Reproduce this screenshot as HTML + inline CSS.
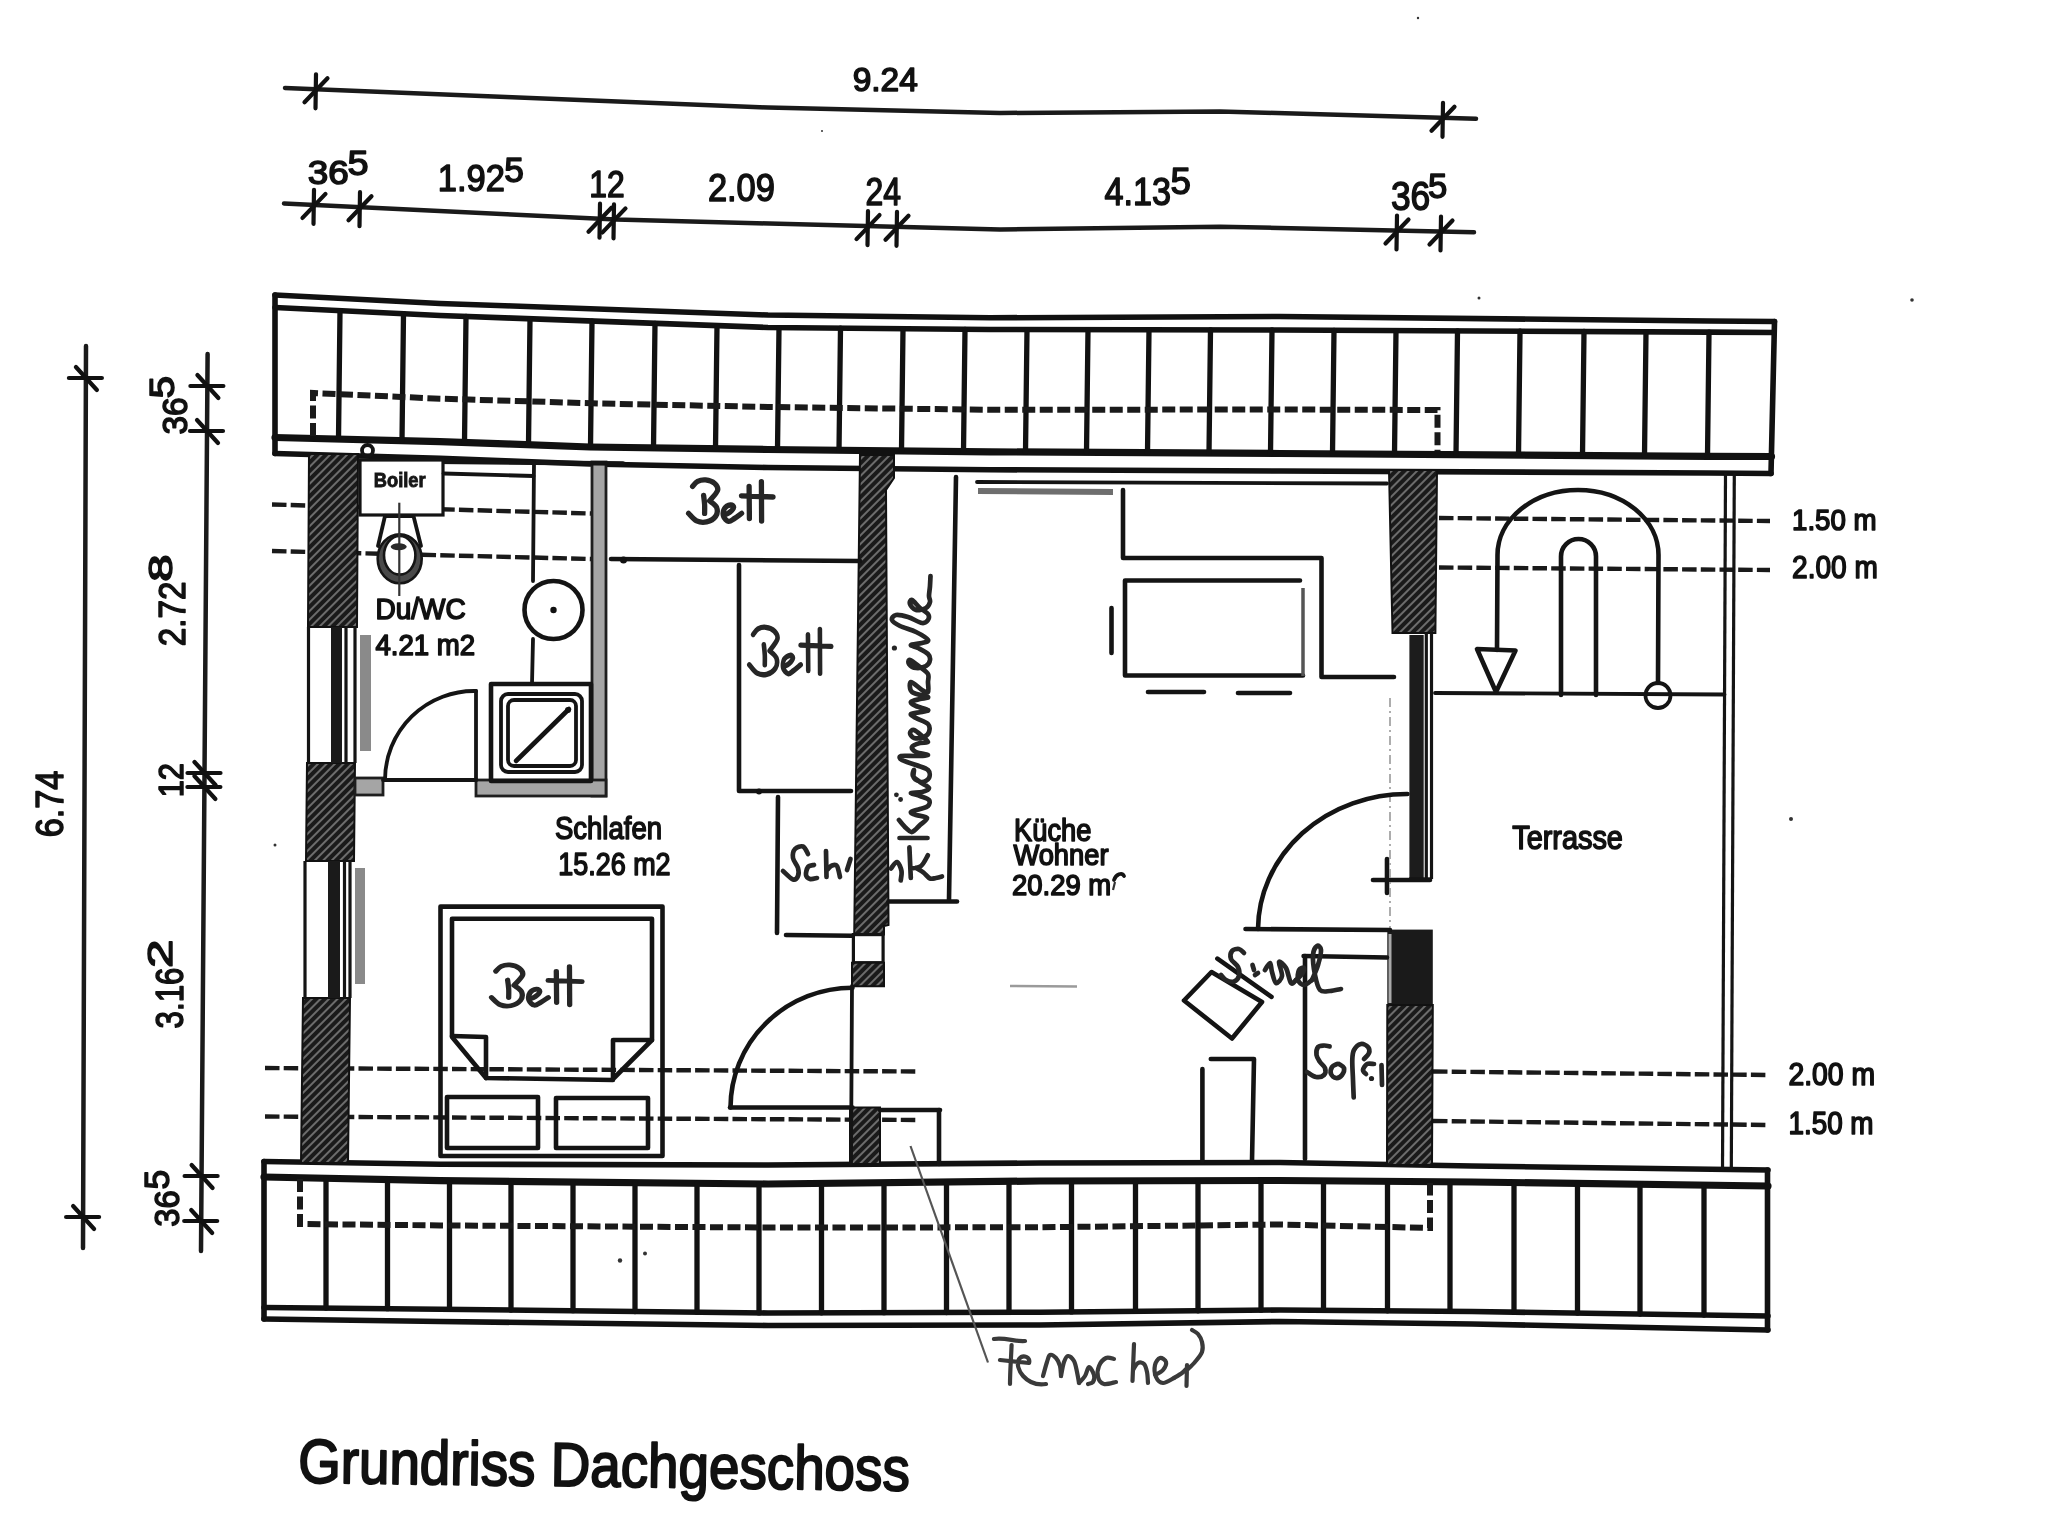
<!DOCTYPE html>
<html><head><meta charset="utf-8"><title>Grundriss Dachgeschoss</title><style>
html,body{margin:0;padding:0;background:#fff;}
svg{display:block;filter:blur(0.5px);}
.l{fill:none;stroke:#141414;stroke-width:4.6;stroke-linecap:round;stroke-linejoin:round}
.lg{fill:none;stroke:#555;stroke-width:3.5}
.th{fill:none;stroke:#141414;stroke-width:3.8;stroke-linecap:round;stroke-linejoin:round}
.thg{fill:none;stroke:#333;stroke-width:2.2}
.thw{fill:none;stroke:#aaa;stroke-width:3}
.rl{fill:none;stroke:#111;stroke-width:5.6;stroke-linecap:round;stroke-linejoin:round}
.rl3{fill:none;stroke:#111;stroke-width:7.2;stroke-linecap:round;stroke-linejoin:round}
.tl{fill:none;stroke:#111;stroke-width:5.3;stroke-linecap:round}
.wl{fill:none;stroke:#141414;stroke-width:3.2}
.dim{fill:none;stroke:#1a1a1a;stroke-width:4.5;stroke-linecap:round;stroke-linejoin:round}
.tk{fill:none;stroke:#111;stroke-width:4.2;stroke-linecap:round}
.dash{fill:none;stroke:#1a1a1a;stroke-width:6;stroke-dasharray:13 4.5}
.hd{fill:none;stroke:#1a1a1a;stroke-width:4.4;stroke-dasharray:14.5 4.2}
.dd{fill:none;stroke:#999;stroke-width:1.6;stroke-dasharray:9 4 2 4}
.ol{fill:#fff;stroke:#141414;stroke-width:3.2}
.gw{fill:#a5a5a5;stroke:#1e1e1e;stroke-width:2.8}
.gl{fill:none;stroke:#6e6e6e;stroke-width:6}
.gl2{fill:none;stroke:#9a9a9a;stroke-width:2.6}
.pt{fill:none;stroke:#555;stroke-width:2.2}
.hx{fill:url(#hp);stroke:#111;stroke-width:2}
.hw{fill:none;stroke:#262626;stroke-width:4.7;stroke-linecap:round;stroke-linejoin:round}
.hwf{fill:none;stroke:#3a3a3a;stroke-width:4.2;stroke-linecap:round;stroke-linejoin:round}
text{font-family:"Liberation Sans",sans-serif;}
.t{fill:#111;stroke:#111;stroke-width:1.6;stroke-linejoin:round}
.td{fill:#111;stroke:#111;stroke-width:1.5;stroke-linejoin:round}
.tb{fill:#161616;stroke:#161616;stroke-width:0.9;font-weight:bold}
.tt{fill:#111;stroke:#111;stroke-width:2.1;stroke-linejoin:round}
</style></head><body>
<svg width="2048" height="1538" viewBox="0 0 2048 1538">
<defs>
<pattern id="hp" patternUnits="userSpaceOnUse" width="6" height="6" patternTransform="rotate(-45)">
<rect width="6" height="6" fill="#1a1a1a"/>
<line x1="0" y1="3" x2="6" y2="3" stroke="#6c6c6c" stroke-width="2"/>
</pattern>
</defs>
<rect width="2048" height="1538" fill="#fff"/>
<path class="dim" d="M285.0 88.0 L506.0 97.0 L768.0 107.5 L1000.0 113.0 L1220.0 111.5 L1476.0 118.7" />
<path class="dim" d="M284.0 203.5 L616.0 219.5 L1000.0 229.5 L1220.0 226.7 L1474.0 232.2" />
<path class="tk" d="M316.0 74.3 L315.5 108.3" />
<path class="tk" d="M304.5 102.3 L327.5 78.3" />
<path class="tk" d="M1443.0 102.8 L1442.5 136.8" />
<path class="tk" d="M1431.5 130.8 L1454.5 106.8" />
<path class="tk" d="M314.0 189.9 L313.5 223.9" />
<path class="tk" d="M302.5 217.9 L325.5 193.9" />
<path class="tk" d="M360.0 192.2 L359.5 226.2" />
<path class="tk" d="M348.5 220.2 L371.5 196.2" />
<path class="tk" d="M600.0 203.7 L599.5 237.7" />
<path class="tk" d="M588.5 231.7 L611.5 207.7" />
<path class="tk" d="M614.0 204.4 L613.5 238.4" />
<path class="tk" d="M602.5 232.4 L625.5 208.4" />
<path class="tk" d="M868.0 211.1 L867.5 245.1" />
<path class="tk" d="M856.5 239.1 L879.5 215.1" />
<path class="tk" d="M897.0 211.8 L896.5 245.8" />
<path class="tk" d="M885.5 239.8 L908.5 215.8" />
<path class="tk" d="M1397.0 215.5 L1396.5 249.5" />
<path class="tk" d="M1385.5 243.5 L1408.5 219.5" />
<path class="tk" d="M1441.0 216.5 L1440.5 250.5" />
<path class="tk" d="M1429.5 244.5 L1452.5 220.5" />
<path class="dim" d="M86.0 346.0 L83.0 1248.0" />
<path class="dim" d="M207.6 354.0 L201.0 1251.0" />
<path class="tk" d="M68.9 378.0 L101.9 378.0" />
<path class="tk" d="M75.9 367.0 L96.9 390.0" />
<path class="tk" d="M66.1 1217.0 L99.1 1217.0" />
<path class="tk" d="M73.1 1206.0 L94.1 1229.0" />
<path class="tk" d="M190.4 386.0 L223.4 386.0" />
<path class="tk" d="M197.4 375.0 L218.4 398.0" />
<path class="tk" d="M190.0 431.0 L223.0 431.0" />
<path class="tk" d="M197.0 420.0 L218.0 443.0" />
<path class="tk" d="M187.5 773.0 L220.5 773.0" />
<path class="tk" d="M194.5 762.0 L215.5 785.0" />
<path class="tk" d="M187.4 787.0 L220.4 787.0" />
<path class="tk" d="M194.4 776.0 L215.4 799.0" />
<path class="tk" d="M184.6 1176.0 L217.6 1176.0" />
<path class="tk" d="M191.6 1165.0 L212.6 1188.0" />
<path class="tk" d="M184.2 1221.0 L217.2 1221.0" />
<path class="tk" d="M191.2 1210.0 L212.2 1233.0" />
<text class="td" x="307.7" y="184.0" font-size="32.56" textLength="41.0" lengthAdjust="spacingAndGlyphs">36</text>
<text class="td" x="347.5" y="174.9" font-size="34.88" textLength="21.1" lengthAdjust="spacingAndGlyphs">5</text>
<text class="td" x="437.8" y="191.0" font-size="37.79" textLength="67.1" lengthAdjust="spacingAndGlyphs">1.92</text>
<text class="td" x="504.3" y="181.5" font-size="34.88" textLength="19.6" lengthAdjust="spacingAndGlyphs">5</text>
<text class="td" x="589.2" y="196.5" font-size="37.35" textLength="35.4" lengthAdjust="spacingAndGlyphs">12</text>
<text class="td" x="707.9" y="200.7" font-size="38.66" textLength="67.0" lengthAdjust="spacingAndGlyphs">2.09</text>
<text class="td" x="865.6" y="204.8" font-size="38.52" textLength="35.5" lengthAdjust="spacingAndGlyphs">24</text>
<text class="td" x="1104.6" y="205.2" font-size="39.24" textLength="66.5" lengthAdjust="spacingAndGlyphs">4.13</text>
<text class="td" x="1170.6" y="194.3" font-size="37.79" textLength="20.4" lengthAdjust="spacingAndGlyphs">5</text>
<text class="td" x="1390.9" y="209.7" font-size="40.70" textLength="39.4" lengthAdjust="spacingAndGlyphs">36</text>
<text class="td" x="1428.1" y="197.9" font-size="35.47" textLength="19.3" lengthAdjust="spacingAndGlyphs">5</text>
<text class="td" x="852.7" y="91.1" font-size="32.41" textLength="65.1" lengthAdjust="spacingAndGlyphs">9.24</text>
<g transform="translate(186.5 433.1) rotate(-90)"><text class="td" x="-1.5" y="0" font-size="35.32" textLength="37.2" lengthAdjust="spacingAndGlyphs">36</text></g>
<g transform="translate(173.9 397.0) rotate(-90)"><text class="td" x="-1.5" y="0" font-size="35.47" textLength="22.5" lengthAdjust="spacingAndGlyphs">5</text></g>
<g transform="translate(184.6 644.6) rotate(-90)"><text class="td" x="-1.6" y="0" font-size="36.92" textLength="64.6" lengthAdjust="spacingAndGlyphs">2.72</text></g>
<g transform="translate(171.9 580.3) rotate(-90)"><text class="td" x="-1.4" y="0" font-size="34.01" textLength="27.3" lengthAdjust="spacingAndGlyphs">8</text></g>
<g transform="translate(182.6 795.8) rotate(-90)"><text class="td" x="-1.5" y="0" font-size="35.32" textLength="34.3" lengthAdjust="spacingAndGlyphs">12</text></g>
<g transform="translate(182.6 1026.8) rotate(-90)"><text class="td" x="-1.6" y="0" font-size="38.23" textLength="60.8" lengthAdjust="spacingAndGlyphs">3.16</text></g>
<g transform="translate(171.9 966.4) rotate(-90)"><text class="td" x="-1.5" y="0" font-size="35.47" textLength="28.5" lengthAdjust="spacingAndGlyphs">2</text></g>
<g transform="translate(178.9 1225.2) rotate(-90)"><text class="td" x="-1.5" y="0" font-size="34.88" textLength="36.3" lengthAdjust="spacingAndGlyphs">36</text></g>
<g transform="translate(168.7 1188.1) rotate(-90)"><text class="td" x="-1.5" y="0" font-size="35.47" textLength="19.7" lengthAdjust="spacingAndGlyphs">5</text></g>
<g transform="translate(63.3 835.6) rotate(-90)"><text class="td" x="-1.7" y="0" font-size="39.10" textLength="66.7" lengthAdjust="spacingAndGlyphs">6.74</text></g>
<path class="rl" d="M275.0 295.0 L440.0 303.5 L768.0 315.0 L990.0 317.8 L1280.0 316.5 L1709.0 321.0 L1774.5 321.5" />
<path class="rl" d="M275.0 307.5 L440.0 315.5 L768.0 327.5 L990.0 329.5 L1280.0 330.0 L1709.0 332.1 L1774.0 332.5" />
<path class="rl3" d="M275.0 437.5 L440.0 441.6 L590.0 447.0 L768.0 449.5 L990.0 451.8 L1280.0 453.5 L1709.0 456.4 L1771.5 456.5" />
<path class="rl" d="M275.0 453.5 L440.0 458.3 L590.0 464.0 L768.0 467.5 L990.0 469.7 L1280.0 471.0 L1709.0 473.0 L1771.0 473.5" />
<path class="rl" d="M275.0 295.0 L275.0 453.5" />
<path class="rl" d="M1774.5 321.5 L1771.0 473.5" />
<path class="tl" d="M340.0 310.7 L338.5 439.1" />
<path class="tl" d="M403.5 313.7 L402.0 440.7" />
<path class="tl" d="M466.0 316.5 L464.5 442.5" />
<path class="tl" d="M530.0 318.8 L528.5 444.8" />
<path class="tl" d="M592.0 321.1 L590.5 447.0" />
<path class="tl" d="M655.0 323.4 L653.5 447.9" />
<path class="tl" d="M717.0 325.6 L715.5 448.8" />
<path class="tl" d="M779.0 327.6 L777.5 449.6" />
<path class="tl" d="M840.5 328.2 L839.0 450.3" />
<path class="tl" d="M903.0 328.7 L901.5 450.9" />
<path class="tl" d="M965.0 329.3 L963.5 451.5" />
<path class="tl" d="M1027.0 329.6 L1025.5 452.0" />
<path class="tl" d="M1088.0 329.7 L1086.5 452.4" />
<path class="tl" d="M1149.0 329.8 L1147.5 452.7" />
<path class="tl" d="M1210.5 329.9 L1209.0 453.1" />
<path class="tl" d="M1272.0 330.0 L1270.5 453.5" />
<path class="tl" d="M1334.0 330.3 L1332.5 453.9" />
<path class="tl" d="M1396.0 330.6 L1394.5 454.3" />
<path class="tl" d="M1457.5 330.9 L1456.0 454.7" />
<path class="tl" d="M1520.0 331.2 L1518.5 455.1" />
<path class="tl" d="M1584.0 331.5 L1582.5 455.6" />
<path class="tl" d="M1646.0 331.8 L1644.5 456.0" />
<path class="tl" d="M1709.0 332.1 L1707.5 456.4" />
<path class="dash" d="M313.0 436.0 L313.0 393.0 L440.0 398.7 L600.0 403.5 L768.0 407.0 L990.0 409.8 L1280.0 409.5 L1437.5 410.0 L1437.5 451.0" />
<path class="rl" d="M264.0 1161.5 L440.0 1164.2 L768.0 1165.0 L1040.0 1163.0 L1280.0 1162.5 L1472.0 1166.0 L1768.0 1170.0" />
<path class="rl3" d="M264.0 1177.0 L440.0 1180.6 L768.0 1184.0 L1040.0 1181.0 L1280.0 1180.5 L1472.0 1182.0 L1768.0 1186.0" />
<path class="rl" d="M264.0 1307.5 L440.0 1309.2 L768.0 1313.0 L1040.0 1312.2 L1280.0 1310.0 L1472.0 1311.5 L1768.0 1316.0" />
<path class="rl" d="M264.0 1319.0 L440.0 1321.5 L768.0 1325.5 L1040.0 1325.0 L1280.0 1321.5 L1472.0 1324.0 L1768.0 1330.0" />
<path class="rl" d="M264.0 1161.5 L264.0 1319.0" />
<path class="rl" d="M1767.5 1170.0 L1767.5 1330.0" />
<path class="tl" d="M326.0 1178.3 L326.0 1308.1" />
<path class="tl" d="M387.5 1179.5 L387.5 1308.7" />
<path class="tl" d="M449.5 1180.7 L449.5 1309.3" />
<path class="tl" d="M511.0 1181.3 L511.0 1310.0" />
<path class="tl" d="M573.0 1182.0 L573.0 1310.7" />
<path class="tl" d="M635.0 1182.6 L635.0 1311.5" />
<path class="tl" d="M697.0 1183.3 L697.0 1312.2" />
<path class="tl" d="M759.0 1183.9 L759.0 1312.9" />
<path class="tl" d="M821.5 1183.4 L821.5 1312.8" />
<path class="tl" d="M884.0 1182.7 L884.0 1312.7" />
<path class="tl" d="M946.5 1182.0 L946.5 1312.5" />
<path class="tl" d="M1009.0 1181.3 L1009.0 1312.3" />
<path class="tl" d="M1071.5 1180.9 L1071.5 1311.9" />
<path class="tl" d="M1135.5 1180.8 L1135.5 1311.3" />
<path class="tl" d="M1198.0 1180.7 L1198.0 1310.8" />
<path class="tl" d="M1261.0 1180.5 L1261.0 1310.2" />
<path class="tl" d="M1323.5 1180.8 L1323.5 1310.3" />
<path class="tl" d="M1387.5 1181.3 L1387.5 1310.8" />
<path class="tl" d="M1450.0 1181.8 L1450.0 1311.3" />
<path class="tl" d="M1514.0 1182.6 L1514.0 1312.1" />
<path class="tl" d="M1577.5 1183.4 L1577.5 1313.1" />
<path class="tl" d="M1640.0 1184.3 L1640.0 1314.1" />
<path class="tl" d="M1704.0 1185.1 L1704.0 1315.0" />
<path class="dash" d="M300.0 1179.0 L300.0 1224.0 L440.0 1225.4 L768.0 1227.5 L1040.0 1227.3 L1280.0 1224.5 L1430.0 1228.0 L1430.0 1183.0" />
<path class="hd" d="M272.0 504.5 L591.0 513.5" />
<path class="hd" d="M272.0 551.0 L591.0 559.0" />
<path class="hd" d="M1439.0 518.0 L1770.0 521.0" />
<path class="hd" d="M1439.0 567.5 L1770.0 570.0" />
<path class="hd" d="M265.0 1068.0 L919.0 1071.5" />
<path class="hd" d="M265.0 1116.5 L919.0 1120.0" />
<path class="hd" d="M1433.0 1071.5 L1768.0 1075.0" />
<path class="hd" d="M1433.0 1121.0 L1768.0 1125.0" />
<text class="t" x="1792.0" y="530.4" font-size="29.36" textLength="84.6" lengthAdjust="spacingAndGlyphs">1.50 m</text>
<text class="t" x="1792.1" y="577.8" font-size="31.98" textLength="85.8" lengthAdjust="spacingAndGlyphs">2.00 m</text>
<text class="t" x="1788.4" y="1084.8" font-size="30.52" textLength="86.6" lengthAdjust="spacingAndGlyphs">2.00 m</text>
<text class="t" x="1788.4" y="1133.7" font-size="31.54" textLength="85.2" lengthAdjust="spacingAndGlyphs">1.50 m</text>
<path class="hx" d="M309.0 454.0 L358.0 454.0 L357.0 627.0 L308.0 627.0 Z"/>
<path class="hx" d="M307.0 763.0 L355.0 763.0 L354.0 861.0 L306.0 861.0 Z"/>
<path class="hx" d="M303.0 998.0 L350.0 998.0 L348.0 1163.0 L301.0 1163.0 Z"/>
<path class="wl" d="M308.5 627.0 L308.5 763.0" />
<rect x="331.0" y="627.0" width="11.0" height="136.0" fill="#1a1a1a"/>
<path class="wl" d="M346.0 627.0 L346.0 763.0" />
<path class="wl" d="M355.0 627.0 L355.0 763.0" />
<path class="wl" d="M305.0 861.0 L305.0 998.0" />
<rect x="328.0" y="861.0" width="12.0" height="137.0" fill="#1a1a1a"/>
<path class="wl" d="M344.5 861.0 L344.5 998.0" />
<path class="wl" d="M350.0 861.0 L350.0 998.0" />
<rect x="360" y="635" width="11" height="116" fill="#8a8a8a"/>
<rect x="355" y="868" width="10" height="116" fill="#8a8a8a"/>
<circle class="th" cx="367.5" cy="450.5" r="5.5" fill="#fff"/>
<path class="hx" d="M860.0 455.0 L894.0 455.0 L894.0 478.0 L886.0 490.0 L888.5 925.0 L884.0 926.0 L884.0 934.6 L854.2 934.6 Z"/>
<rect class="ol" x="853.4" y="934.6" width="29.7" height="28.1"/>
<path class="hx" d="M852.0 962.7 L884.0 962.7 L884.0 986.2 L852.0 986.2 Z"/>
<path class="hx" d="M850.0 1107.5 L880.0 1107.5 L880.0 1164.0 L850.0 1164.0 Z"/>
<path class="th" d="M852.0 986.0 L851.0 1164.0" />
<path class="hx" d="M1389.0 470.0 L1437.0 470.0 L1435.4 633.0 L1392.5 633.0 Z"/>
<rect x="1409.4" y="635" width="14.3" height="243" fill="#1c1c1c"/>
<path class="wl" d="M1426.3 633.0 L1426.3 879.0" />
<path class="wl" d="M1431.5 633.0 L1431.5 879.0" />
<path class="wl" d="M1409.0 879.0 L1432.0 879.0" />
<path class="l" d="M1373.0 880.0 L1430.0 880.0" />
<path class="l" d="M1387.0 859.0 L1387.0 893.0" />
<rect x="1387.3" y="929.6" width="45.5" height="76" fill="#1a1a1a"/>
<path class="thw" d="M1390.0 934.0 L1390.0 1003.0" />
<path class="hx" d="M1387.3 1005.0 L1432.8 1005.0 L1432.0 1165.0 L1387.0 1165.0 Z"/>
<path class="dd" d="M1390.0 698.0 L1390.0 928.0" />
<rect class="gw" x="592" y="462" width="14" height="334"/>
<rect class="gw" x="476" y="780" width="130" height="16"/>
<rect class="gw" x="355" y="778" width="28" height="17"/>
<path class="l" d="M360.0 461.0 L623.0 463.5" />
<rect class="ol" x="360" y="460" width="83" height="55"/>
<text class="tb" x="373.8" y="486.7" font-size="20.35" textLength="51.8" lengthAdjust="spacingAndGlyphs">Boiler</text>
<path class="th" d="M443.5 473.5 L533.5 476.0" />
<path class="th" d="M534.0 463.0 L533.0 581.0" />
<path class="th" d="M533.0 639.0 L532.0 684.0" />
<circle class="l" cx="553.5" cy="610" r="29"/>
<circle cx="553.5" cy="610" r="3.2" fill="#111"/>
<rect class="l" x="491" y="684" width="100" height="97"/>
<rect class="th" x="501" y="694" width="81" height="78" rx="7"/>
<rect class="th" x="508" y="700" width="68" height="66" rx="6"/>
<path class="l" d="M516.0 761.0 L569.0 709.0" />
<circle cx="568" cy="710" r="3" fill="#111"/>
<path class="th" d="M383.0 780.0 L476.0 780.0" />
<path class="th" d="M476.0 691.0 L476.0 780.0" />
<path class="th" d="M476 691 A89 89 0 0 0 385 780"/>
<path class="th" d="M385 516 L413.5 516 L421 546"/>
<path class="th" d="M385 516 L378 546"/>
<ellipse cx="399.7" cy="558.7" rx="22" ry="24.5" fill="#4a4a4a" stroke="#151515" stroke-width="2.6"/>
<ellipse cx="399.7" cy="555.3" rx="15.7" ry="19.3" fill="#fff" stroke="#151515" stroke-width="2.6"/>
<path class="thg" d="M399.3 502.7 L399.3 596.0" />
<ellipse cx="398.7" cy="546.7" rx="8" ry="3.5" fill="#2a2a2a"/>
<text class="t" x="375.5" y="618.7" font-size="29.07" textLength="90.3" lengthAdjust="spacingAndGlyphs">Du/WC</text>
<text class="t" x="375.4" y="655.3" font-size="29.94" textLength="99.8" lengthAdjust="spacingAndGlyphs">4.21 m2</text>
<text class="t" x="555.0" y="839.3" font-size="31.83" textLength="107.0" lengthAdjust="spacingAndGlyphs">Schlafen</text>
<text class="t" x="558.2" y="875.2" font-size="31.18" textLength="112.4" lengthAdjust="spacingAndGlyphs">15.26 m2</text>
<path class="l" d="M611.0 559.0 L860.0 561.0" />
<circle cx="623.5" cy="560" r="3.5" fill="#111"/>
<path class="l" d="M739.0 565.0 L739.0 790.0" />
<path class="l" d="M739.0 791.0 L851.0 791.0" />
<circle cx="759" cy="791.5" r="3" fill="#111"/>
<path class="l" d="M778.0 797.0 L777.0 933.0" />
<path class="l" d="M786.0 935.0 L852.0 935.8" />
<path class="l" d="M956.0 477.0 L949.0 900.0" />
<path class="l" d="M888.5 901.5 L957.0 901.5" />
<rect class="l" x="440.5" y="906.6" width="222" height="249.4"/>
<path class="l" d="M452 1036 L452 918.8 L652 918.8 L652 1040"/>
<path class="l" d="M452 1036 L486 1037 L486 1078 L613 1080 L613 1040 L652 1040 L613 1079"/>
<path class="l" d="M452 1037 L486 1078"/>
<rect class="l" x="447" y="1097" width="91" height="51"/>
<rect class="l" x="556" y="1098" width="92" height="50"/>
<path class="l" d="M852.5 987.7 A122 120 0 0 0 730.5 1107.5"/>
<path class="l" d="M730.0 1107.5 L852.5 1107.5" />
<path class="l" d="M880.0 1110.0 L940.0 1110.0" />
<path class="l" d="M939.0 1110.0 L939.0 1164.0" />
<path class="th" d="M977.0 482.0 L1387.0 483.5" />
<path class="gl" d="M978.0 491.0 L1113.0 492.0" />
<path class="l" d="M1123 490 L1123 558 L1321.5 558 L1321.5 677 L1394 677"/>
<path class="l" d="M1300 580.5 L1125 580.5 L1125 675.5 L1303 675.5"/>
<path class="lg" d="M1303.0 588.0 L1303.0 676.0" />
<path class="l" d="M1111.5 608.0 L1111.5 653.0" />
<path class="l" d="M1148.0 692.0 L1204.0 692.0" />
<path class="l" d="M1238.0 693.0 L1290.0 693.0" />
<text class="t" x="1014.1" y="841.4" font-size="30.67" textLength="77.3" lengthAdjust="spacingAndGlyphs">Küche</text>
<text class="t" x="1013.4" y="864.7" font-size="29.80" textLength="95.1" lengthAdjust="spacingAndGlyphs">Wohner</text>
<text class="t" x="1012.0" y="895.1" font-size="30.23" textLength="99.2" lengthAdjust="spacingAndGlyphs">20.29 m</text>
<path class="th" d="M1114 880 C1116 874, 1122 872, 1124 876" />
<path class="thg" d="M1115.0 882.0 L1113.0 890.0" />
<path class="l" d="M1407.5 794 A149 136 0 0 0 1258 929"/>
<path class="l" d="M1245.5 929.0 L1390.0 930.0" />
<path class="l" d="M1211.5 972 L1262 1002 L1232 1038.5 L1184 1000.5 Z"/>
<path class="l" d="M1217.4 958.7 L1271.5 996.9" />
<path class="l" d="M1202.4 1161.0 L1202.4 1069.0" />
<path class="l" d="M1210.8 1059 L1254 1059 L1252 1161"/>
<path class="l" d="M1303.6 956.0 L1387.0 957.5" />
<path class="l" d="M1305.0 956.0 L1305.0 1159.0" />
<path class="wl" d="M1725.5 473.0 L1722.5 1170.0" />
<path class="wl" d="M1734.3 473.0 L1731.3 1170.0" />
<path class="th" d="M1435.0 693.0 L1724.5 694.5" />
<path class="l" d="M1497 650 L1497.5 555 A80.5 65 0 0 1 1658.5 555 L1658 683"/>
<path class="l" d="M1561 695 L1561 556.5 A17.5 17.5 0 0 1 1596 556.5 L1596 695"/>
<path class="l" d="M1477 649 L1515.5 650.5 L1496 692 Z"/>
<circle class="th" cx="1658" cy="695.5" r="12.5"/>
<text class="t" x="1512.3" y="848.8" font-size="32.70" textLength="110.6" lengthAdjust="spacingAndGlyphs">Terrasse</text>
<path class="hw" transform="translate(687.6 479.4) scale(1.000 1.000)" d="M5.0 7.0 C5.8 6.2 7.8 3.1 10.0 2.0 C12.2 0.9 15.2 0.2 18.0 0.5 C20.8 0.8 25.0 2.2 27.0 4.0 C29.0 5.8 30.8 8.1 30.0 11.0 C29.2 13.9 23.3 19.8 22.0 21.5 M22.0 21.5 C23.2 22.6 28.0 25.4 29.0 28.0 C30.0 30.6 29.7 34.6 28.0 37.0 C26.3 39.4 22.2 41.8 19.0 42.5 C15.8 43.2 12.0 42.9 9.0 41.5 C6.0 40.1 2.3 35.2 1.0 34.0 M16.0 16.0 C16.2 17.5 16.8 22.0 17.0 25.0 C17.2 28.0 17.0 32.5 17.0 34.0 M36.0 36.0 C37.0 35.5 40.3 34.3 42.0 33.0 C43.7 31.7 45.8 29.2 46.0 28.0 C46.2 26.8 44.5 25.3 43.0 25.5 C41.5 25.7 38.2 27.1 37.0 29.0 C35.8 30.9 35.3 34.8 36.0 37.0 C36.7 39.2 39.2 41.7 41.0 42.0 C42.8 42.3 44.8 40.3 47.0 39.0 C49.2 37.7 52.8 34.8 54.0 34.0 M61.5 7 L61.8 39.2 M73.8 2.3 L74 41.6 M53.9 16.4 L85.5 17.6" style="stroke-width:5.30"/>
<path class="hw" transform="translate(748.3 626.7) scale(0.970 1.120)" d="M5.0 7.0 C5.8 6.2 7.8 3.1 10.0 2.0 C12.2 0.9 15.2 0.2 18.0 0.5 C20.8 0.8 25.0 2.2 27.0 4.0 C29.0 5.8 30.8 8.1 30.0 11.0 C29.2 13.9 23.3 19.8 22.0 21.5 M22.0 21.5 C23.2 22.6 28.0 25.4 29.0 28.0 C30.0 30.6 29.7 34.6 28.0 37.0 C26.3 39.4 22.2 41.8 19.0 42.5 C15.8 43.2 12.0 42.9 9.0 41.5 C6.0 40.1 2.3 35.2 1.0 34.0 M16.0 16.0 C16.2 17.5 16.8 22.0 17.0 25.0 C17.2 28.0 17.0 32.5 17.0 34.0 M36.0 36.0 C37.0 35.5 40.3 34.3 42.0 33.0 C43.7 31.7 45.8 29.2 46.0 28.0 C46.2 26.8 44.5 25.3 43.0 25.5 C41.5 25.7 38.2 27.1 37.0 29.0 C35.8 30.9 35.3 34.8 36.0 37.0 C36.7 39.2 39.2 41.7 41.0 42.0 C42.8 42.3 44.8 40.3 47.0 39.0 C49.2 37.7 52.8 34.8 54.0 34.0 M61.5 7 L61.8 39.2 M73.8 2.3 L74 41.6 M53.9 16.4 L85.5 17.6" style="stroke-width:4.73"/>
<path class="hw" transform="translate(490.5 964.5) scale(1.070 0.970)" d="M5.0 7.0 C5.8 6.2 7.8 3.1 10.0 2.0 C12.2 0.9 15.2 0.2 18.0 0.5 C20.8 0.8 25.0 2.2 27.0 4.0 C29.0 5.8 30.8 8.1 30.0 11.0 C29.2 13.9 23.3 19.8 22.0 21.5 M22.0 21.5 C23.2 22.6 28.0 25.4 29.0 28.0 C30.0 30.6 29.7 34.6 28.0 37.0 C26.3 39.4 22.2 41.8 19.0 42.5 C15.8 43.2 12.0 42.9 9.0 41.5 C6.0 40.1 2.3 35.2 1.0 34.0 M16.0 16.0 C16.2 17.5 16.8 22.0 17.0 25.0 C17.2 28.0 17.0 32.5 17.0 34.0 M36.0 36.0 C37.0 35.5 40.3 34.3 42.0 33.0 C43.7 31.7 45.8 29.2 46.0 28.0 C46.2 26.8 44.5 25.3 43.0 25.5 C41.5 25.7 38.2 27.1 37.0 29.0 C35.8 30.9 35.3 34.8 36.0 37.0 C36.7 39.2 39.2 41.7 41.0 42.0 C42.8 42.3 44.8 40.3 47.0 39.0 C49.2 37.7 52.8 34.8 54.0 34.0 M61.5 7 L61.8 39.2 M73.8 2.3 L74 41.6 M53.9 16.4 L85.5 17.6" style="stroke-width:4.95"/>
<path class="hw" d="M808.0 854.0 C807.2 852.8 805.2 847.3 803.0 846.5 C800.8 845.7 796.7 847.1 795.0 849.0 C793.3 850.9 792.5 854.8 793.0 858.0 C793.5 861.2 797.2 865.0 798.0 868.0 C798.8 871.0 798.8 874.1 798.0 876.0 C797.2 877.9 795.5 880.3 793.0 879.5 C790.5 878.7 784.7 872.4 783.0 871.0" />
<path class="hw" d="M814.0 865.0 C813.0 865.3 809.3 865.3 808.0 867.0 C806.7 868.7 805.7 873.0 806.0 875.0 C806.3 877.0 808.2 878.5 810.0 879.0 C811.8 879.5 815.8 878.2 817.0 878.0" />
<path class="hw" d="M826 851 L826.5 877 M827.5 869.5 C828.2 868.8 830.4 866.1 832.0 865.5 C833.6 864.9 835.7 864.1 837.0 866.0 C838.3 867.9 839.5 875.2 840.0 877.0" />
<path class="hw" d="M847 870 L850.5 859" />
<path class="hw" d="M891.0 868.5 C892.0 867.4 895.2 861.6 897.0 862.0 C898.8 862.4 900.9 867.9 901.5 871.0 C902.1 874.1 900.8 878.9 900.7 880.5" />
<path class="hw" d="M909.4 847.3 L910.8 878 M927.9 855.2 C926.8 857.0 923.8 863.8 921.0 866.0 C918.2 868.2 912.7 868.1 911.0 868.5 M916.0 868.0 C917.3 868.8 921.7 871.2 924.0 873.0 C926.3 874.8 928.0 877.7 930.0 878.5 C932.0 879.3 934.0 878.3 936.0 878.0 C938.0 877.7 941.0 876.8 942.0 876.5" />
<g transform="translate(930 842) rotate(-90)"><path class="hw" d="M4 -2.5 L4 -30.5 M22.0 -31.0 C20.7 -29.8 16.0 -26.2 14.0 -24.0 C12.0 -21.8 9.5 -20.3 10.0 -18.0 C10.5 -15.7 14.7 -12.5 17.0 -10.0 C19.3 -7.5 22.3 -2.3 24.0 -3.0 C25.7 -3.7 26.0 -11.3 27.0 -14.0 C28.0 -16.7 29.0 -19.7 30.0 -19.0 C31.0 -18.3 32.0 -12.8 33.0 -10.0 C34.0 -7.2 34.5 -3.5 36.0 -2.0 C37.5 -0.5 40.3 0.3 42.0 -1.0 C43.7 -2.3 44.8 -7.0 46.0 -10.0 C47.2 -13.0 48.3 -19.3 49.0 -19.0 C49.7 -18.7 49.2 -11.0 50.0 -8.0 C50.8 -5.0 52.3 -0.7 54.0 -1.0 C55.7 -1.3 58.0 -7.3 60.0 -10.0 C62.0 -12.7 64.0 -16.0 66.0 -17.0 C68.0 -18.0 72.3 -16.2 72.0 -16.0 C71.7 -15.8 66.0 -17.3 64.0 -16.0 C62.0 -14.7 60.0 -10.5 60.0 -8.0 C60.0 -5.5 62.0 -2.0 64.0 -1.0 C66.0 0.0 69.8 0.2 72.0 -2.0 C74.2 -4.2 75.3 -9.7 77.0 -14.0 C78.7 -18.3 80.5 -25.5 82.0 -28.0 C83.5 -30.5 85.3 -31.3 86.0 -29.0 C86.7 -26.7 85.8 -18.5 86.0 -14.0 C86.2 -9.5 86.3 -2.0 87.0 -2.0 C87.7 -2.0 88.7 -11.3 90.0 -14.0 C91.3 -16.7 93.5 -18.7 95.0 -18.0 C96.5 -17.3 98.2 -12.7 99.0 -10.0 C99.8 -7.3 98.8 -2.3 100.0 -2.0 C101.2 -1.7 104.0 -5.7 106.0 -8.0 C108.0 -10.3 111.5 -14.0 112.0 -16.0 C112.5 -18.0 110.3 -20.0 109.0 -20.0 C107.7 -20.0 104.7 -18.3 104.0 -16.0 C103.3 -13.7 104.0 -8.5 105.0 -6.0 C106.0 -3.5 107.8 -1.7 110.0 -1.0 C112.2 -0.3 115.7 0.2 118.0 -2.0 C120.3 -4.2 122.3 -11.2 124.0 -14.0 C125.7 -16.8 127.0 -20.0 128.0 -19.0 C129.0 -18.0 129.3 -10.8 130.0 -8.0 C130.7 -5.2 131.0 -1.0 132.0 -2.0 C133.0 -3.0 134.7 -11.2 136.0 -14.0 C137.3 -16.8 138.8 -19.7 140.0 -19.0 C141.2 -18.3 142.2 -12.8 143.0 -10.0 C143.8 -7.2 143.8 -0.7 145.0 -2.0 C146.2 -3.3 147.5 -15.2 150.0 -18.0 C152.5 -20.8 159.7 -20.7 160.0 -19.0 C160.3 -17.3 153.7 -10.8 152.0 -8.0 C150.3 -5.2 148.7 -3.0 150.0 -2.0 C151.3 -1.0 157.0 -2.0 160.0 -2.0 C163.0 -2.0 165.5 -0.7 168.0 -2.0 C170.5 -3.3 172.7 -7.0 175.0 -10.0 C177.3 -13.0 181.5 -18.2 182.0 -20.0 C182.5 -21.8 179.3 -22.0 178.0 -21.0 C176.7 -20.0 174.3 -16.8 174.0 -14.0 C173.7 -11.2 174.7 -6.3 176.0 -4.0 C177.3 -1.7 180.0 -0.3 182.0 0.0 C184.0 0.3 186.0 0.0 188.0 -2.0 C190.0 -4.0 192.5 -9.2 194.0 -12.0 C195.5 -14.8 196.2 -19.7 197.0 -19.0 C197.8 -18.3 198.2 -10.8 199.0 -8.0 C199.8 -5.2 200.2 -1.0 202.0 -2.0 C203.8 -3.0 207.7 -9.3 210.0 -14.0 C212.3 -18.7 214.0 -26.0 216.0 -30.0 C218.0 -34.0 220.2 -37.3 222.0 -38.0 C223.8 -38.7 226.5 -36.7 227.0 -34.0 C227.5 -31.3 226.3 -26.3 225.0 -22.0 C223.7 -17.7 219.5 -11.3 219.0 -8.0 C218.5 -4.7 220.5 -3.0 222.0 -2.0 C223.5 -1.0 226.0 -0.7 228.0 -2.0 C230.0 -3.3 231.7 -7.3 234.0 -10.0 C236.3 -12.7 241.3 -16.3 242.0 -18.0 C242.7 -19.7 239.7 -20.7 238.0 -20.0 C236.3 -19.3 232.7 -16.7 232.0 -14.0 C231.3 -11.3 232.7 -6.3 234.0 -4.0 C235.3 -1.7 238.0 -0.5 240.0 0.0 C242.0 0.5 243.3 -1.0 246.0 -1.0 C248.7 -1.0 252.7 -0.2 256.0 0.0 C259.3 0.2 264.3 0.4 266.0 0.5"/><circle cx="42.5" cy="-29.4" r="2.4" fill="#262626"/><circle cx="47.2" cy="-33.6" r="2.4" fill="#262626"/><circle cx="194" cy="-35.6" r="2.6" fill="#262626"/></g>
<path class="hw" d="M1244.0 953.0 C1243.2 952.3 1241.0 949.3 1239.0 949.0 C1237.0 948.7 1233.3 949.3 1232.0 951.0 C1230.7 952.7 1230.0 956.3 1231.0 959.0 C1232.0 961.7 1236.7 964.2 1238.0 967.0 C1239.3 969.8 1239.7 973.6 1239.0 976.0 C1238.3 978.4 1236.2 980.8 1234.0 981.5 C1231.8 982.2 1228.2 981.1 1226.0 980.0 C1223.8 978.9 1221.8 975.8 1221.0 975.0" />
<path class="hw" d="M1252.5 965 L1254 970 M1255 975 L1258 973" />
<path class="hw" d="M1265.0 970.0 C1265.8 968.8 1268.8 962.7 1270.0 963.0 C1271.2 963.3 1271.0 968.7 1272.0 972.0 C1273.0 975.3 1274.3 982.3 1276.0 983.0 C1277.7 983.7 1281.5 979.5 1282.0 976.0 C1282.5 972.5 1278.3 963.3 1279.0 962.0 C1279.7 960.7 1284.0 964.5 1286.0 968.0 C1288.0 971.5 1289.3 981.0 1291.0 983.0 C1292.7 985.0 1295.2 980.5 1296.0 980.0" />
<path class="hw" d="M1296.0 980.0 C1297.0 979.0 1300.7 976.0 1302.0 974.0 C1303.3 972.0 1304.5 968.7 1304.0 968.0 C1303.5 967.3 1300.0 968.0 1299.0 970.0 C1298.0 972.0 1297.2 977.5 1298.0 980.0 C1298.8 982.5 1301.7 985.0 1304.0 985.0 C1306.3 985.0 1310.7 980.8 1312.0 980.0" />
<path class="hw" d="M1312.0 980.0 C1313.0 977.5 1316.5 970.0 1318.0 965.0 C1319.5 960.0 1321.2 953.2 1321.0 950.0 C1320.8 946.8 1318.3 945.2 1317.0 946.0 C1315.7 946.8 1313.3 950.2 1313.0 955.0 C1312.7 959.8 1313.8 969.2 1315.0 975.0 C1316.2 980.8 1317.5 987.3 1320.0 990.0 C1322.5 992.7 1326.5 991.2 1330.0 991.0 C1333.5 990.8 1339.2 989.3 1341.0 989.0" />
<path class="hw" d="M1329.6 1046.4 C1328.7 1046.2 1325.9 1045.4 1324.0 1045.5 C1322.1 1045.6 1319.2 1045.4 1318.0 1047.0 C1316.8 1048.6 1316.2 1052.5 1316.5 1055.0 C1316.8 1057.5 1318.6 1059.8 1320.0 1062.0 C1321.4 1064.2 1324.3 1065.8 1325.0 1068.0 C1325.7 1070.2 1325.5 1073.5 1324.0 1075.0 C1322.5 1076.5 1318.8 1077.5 1316.0 1077.0 C1313.2 1076.5 1308.5 1072.8 1307.0 1072.0" />
<path class="hw" d="M1337.0 1064.0 C1336.2 1064.5 1333.0 1065.3 1332.0 1067.0 C1331.0 1068.7 1330.3 1072.2 1331.0 1074.0 C1331.7 1075.8 1334.2 1077.8 1336.0 1078.0 C1337.8 1078.2 1340.7 1076.7 1342.0 1075.0 C1343.3 1073.3 1344.5 1069.8 1344.0 1068.0 C1343.5 1066.2 1339.8 1064.7 1339.0 1064.0" />
<path class="hw" d="M1353.7 1097.5 C1353.6 1094.6 1353.2 1086.2 1353.0 1080.0 C1352.8 1073.8 1352.1 1065.0 1352.3 1060.0 C1352.5 1055.0 1352.5 1052.7 1354.0 1050.0 C1355.5 1047.3 1358.7 1044.5 1361.0 1044.0 C1363.3 1043.5 1366.7 1045.5 1368.0 1047.0 C1369.3 1048.5 1369.7 1051.0 1369.0 1053.0 C1368.3 1055.0 1364.8 1058.0 1364.0 1059.0" />
<path class="hw" d="M1374.0 1064.0 C1372.8 1064.0 1368.8 1063.0 1367.0 1064.0 C1365.2 1065.0 1363.2 1068.3 1363.0 1070.0 C1362.8 1071.7 1365.5 1073.3 1366.0 1074.0" />
<circle cx="1371.5" cy="1078.5" r="2.6" fill="#222"/>
<path class="hw" d="M1381.5 1065 L1382 1085" />
<path class="hwf" d="M994 1339 C1005 1337 1015 1342 1025 1341"/>
<path class="hwf" d="M1011.6 1345 C1011 1360 1010 1372 1010 1384"/>
<path class="hwf" d="M1000 1360 L1029 1363 C1031 1357 1023 1354 1019 1359 C1014 1368 1026 1387 1046 1384"/>
<path class="hwf" d="M1043.0 1376.0 C1043.7 1373.7 1045.8 1365.5 1047.0 1362.0 C1048.2 1358.5 1048.5 1355.7 1050.0 1355.0 C1051.5 1354.3 1054.3 1356.2 1056.0 1358.0 C1057.7 1359.8 1059.2 1363.0 1060.0 1366.0 C1060.8 1369.0 1060.8 1374.3 1061.0 1376.0"/>
<path class="hwf" d="M1061.0 1376.0 C1061.5 1373.7 1062.8 1365.3 1064.0 1362.0 C1065.2 1358.7 1066.3 1356.2 1068.0 1356.0 C1069.7 1355.8 1072.5 1358.3 1074.0 1361.0 C1075.5 1363.7 1076.2 1368.3 1077.0 1372.0 C1077.8 1375.7 1078.7 1381.2 1079.0 1383.0"/>
<path class="hwf" d="M1079.0 1383.0 C1080.0 1381.8 1083.3 1378.7 1085.0 1376.0 C1086.7 1373.3 1087.5 1367.2 1089.0 1367.0 C1090.5 1366.8 1093.3 1372.5 1094.0 1375.0 C1094.7 1377.5 1094.0 1380.5 1093.0 1382.0 C1092.0 1383.5 1088.8 1383.7 1088.0 1384.0"/>
<path class="hwf" d="M1114.0 1359.0 C1112.7 1358.8 1108.5 1356.8 1106.0 1358.0 C1103.5 1359.2 1100.3 1362.8 1099.0 1366.0 C1097.7 1369.2 1097.2 1374.0 1098.0 1377.0 C1098.8 1380.0 1101.0 1383.2 1104.0 1384.0 C1107.0 1384.8 1114.0 1382.3 1116.0 1382.0"/>
<path class="hwf" d="M1134 1344 L1132.5 1381 M1133.0 1370.0 C1133.8 1368.8 1136.2 1364.0 1138.0 1363.0 C1139.8 1362.0 1142.5 1362.5 1144.0 1364.0 C1145.5 1365.5 1146.3 1368.8 1147.0 1372.0 C1147.7 1375.2 1147.8 1381.2 1148.0 1383.0"/>
<path class="hwf" d="M1155.0 1375.0 C1156.3 1374.2 1161.2 1372.2 1163.0 1370.0 C1164.8 1367.8 1166.5 1364.0 1166.0 1362.0 C1165.5 1360.0 1161.8 1357.5 1160.0 1358.0 C1158.2 1358.5 1155.7 1361.8 1155.0 1365.0 C1154.3 1368.2 1154.7 1374.0 1156.0 1377.0 C1157.3 1380.0 1160.0 1382.8 1163.0 1383.0 C1166.0 1383.2 1172.2 1378.8 1174.0 1378.0"/>
<path class="hwf" d="M1174.0 1378.0 C1175.3 1377.2 1179.8 1374.7 1182.0 1373.0 C1184.2 1371.3 1186.2 1368.8 1187.0 1368.0 M1187 1365 L1186.5 1386 M1187.0 1370.0 C1188.3 1368.7 1192.5 1365.0 1195.0 1362.0 C1197.5 1359.0 1200.8 1355.3 1202.0 1352.0 C1203.2 1348.7 1202.7 1345.0 1202.0 1342.0 C1201.3 1339.0 1199.7 1336.0 1198.0 1334.0 C1196.3 1332.0 1193.0 1330.7 1192.0 1330.0"/>
<path class="pt" d="M910.5 1146.0 L988.0 1362.5" />
<path class="gl2" d="M1010.0 986.0 L1077.0 986.5" />
<circle cx="620.0" cy="1260.5" r="2.2" fill="#333"/>
<circle cx="645.0" cy="1253.5" r="2.0" fill="#333"/>
<circle cx="1791.0" cy="819.0" r="2.0" fill="#333"/>
<circle cx="1912.0" cy="300.0" r="1.8" fill="#333"/>
<circle cx="1479.0" cy="298.0" r="1.5" fill="#333"/>
<circle cx="1418.0" cy="18.0" r="1.2" fill="#333"/>
<circle cx="822.0" cy="131.0" r="1.0" fill="#333"/>
<circle cx="275.0" cy="845.0" r="1.5" fill="#333"/>
<g transform="rotate(0.76 300.5 1482.5)">
<text class="tt" x="297.9" y="1482.5" font-size="61.77" textLength="611.7" lengthAdjust="spacingAndGlyphs">Grundriss Dachgeschoss</text>
</g>
</svg>
</body></html>
